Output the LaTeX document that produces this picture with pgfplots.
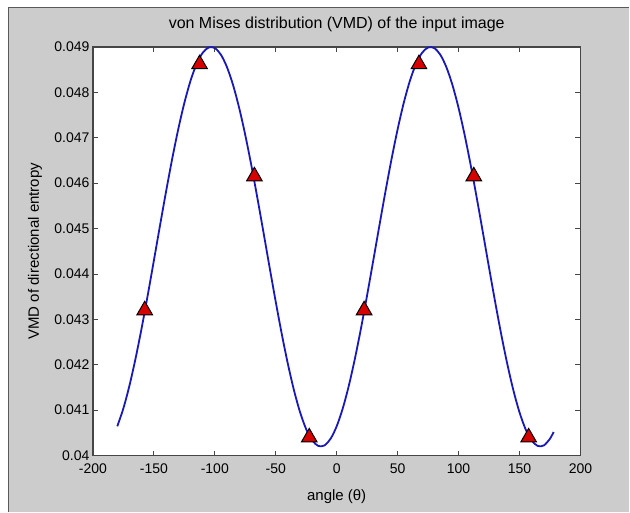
\documentclass[border=0pt]{standalone}
\usepackage{fontspec}
\setmainfont{Liberation Sans}
\usepackage{pgfplots}
\pgfplotsset{compat=1.18}
\definecolor{figgray}{RGB}{204,204,204}
\definecolor{vmdblue}{RGB}{25,25,185}
\definecolor{mkred}{RGB}{215,0,0}
\definecolor{boxgray}{RGB}{70,70,70}

\begin{document}
\begin{tikzpicture}
\fill[white] (0pt,0pt) rectangle (630pt,512pt);
\fill[figgray] (8pt,0pt) rectangle (630pt,505pt);
\draw[gray!70!black, line width=1.2pt] (8.6pt,0pt) -- (8.6pt,504.4pt) -- (630pt,504.4pt);
\begin{axis}[
    at={(93pt,56pt)}, anchor=south west,
    scale only axis, width=488pt, height=409pt,
    xmin=-200, xmax=200, ymin=0.04, ymax=0.049,
    scaled x ticks=false, scaled y ticks=false,
    font=\fontsize{14}{16}\selectfont,
    axis background/.style={fill=white},
    axis line style={boxgray, line width=1.2pt},
    tick align=inside, major tick length=5pt,
    tick style={boxgray, line width=0.8pt},
    xtick={-200,-150,-100,-50,0,50,100,150,200},
    xticklabels={-200,-150,-100,-50,0,50,100,150,200},
    ytick={0.04,0.041,0.042,0.043,0.044,0.045,0.046,0.047,0.048,0.049},
    yticklabels={0.04,0.041,0.042,0.043,0.044,0.045,0.046,0.047,0.048,0.049},
    xticklabel style={yshift=-5pt},
    title={von Mises distribution (VMD) of the input image},
    title style={at={(axis description cs:0.5,1.0416)}, anchor=center, yshift=0pt,
        font=\fontsize{16}{18}\selectfont},
    xlabel={angle (θ)},
    xlabel style={at={(axis description cs:0.5,-0.1002)}, anchor=center,
        font=\fontsize{15}{17}\selectfont},
    ylabel={VMD of directional entropy},
    ylabel style={at={(axis description cs:-0.1189,0.5)}, anchor=center,
        font=\fontsize{15}{17}\selectfont},
]
% VMD curve
\addplot[vmdblue, line width=1.8pt, smooth] coordinates {
(-180,0.040645)(-175,0.041040)(-170,0.041543)(-165,0.042140)(-160,0.042810)
(-155,0.043536)(-150,0.044293)(-145,0.045060)(-140,0.045813)(-135,0.046529)
(-130,0.047186)(-125,0.047765)(-120,0.048248)(-115,0.048620)(-110,0.048869)
(-105,0.048989)(-100,0.048976)(-95,0.048830)(-90,0.048555)(-85,0.048160)
(-80,0.047657)(-75,0.047060)(-70,0.046390)(-65,0.045665)(-60,0.044907)
(-55,0.044140)(-50,0.043387)(-45,0.042671)(-40,0.042014)(-35,0.041435)
(-30,0.040952)(-25,0.040580)(-20,0.040331)(-15,0.040211)(-10,0.040224)
(-5,0.040371)(0,0.040645)(5,0.041040)(10,0.041543)(15,0.042140)
(20,0.042810)(25,0.043536)(30,0.044293)(35,0.045060)(40,0.045813)
(45,0.046529)(50,0.047186)(55,0.047765)(60,0.048248)(65,0.048620)
(70,0.048869)(75,0.048989)(80,0.048976)(85,0.048830)(90,0.048555)
(95,0.048160)(100,0.047657)(105,0.047060)(110,0.046390)(115,0.045665)
(120,0.044907)(125,0.044140)(130,0.043387)(135,0.042671)(140,0.042014)
(145,0.041435)(150,0.040952)(155,0.040580)(160,0.040331)(165,0.040211)
(170,0.040224)(175,0.040371)(178,0.040520)
};
% sampled directions
\addplot[only marks, mark=triangle*, mark size=9pt,
    mark options={fill=mkred, draw=black, line width=1pt}] coordinates {
(-157.5,0.04320)(-112.5,0.04862)(-67.5,0.04615)(-22.5,0.04040)
(22.5,0.04320)(67.5,0.04862)(112.5,0.04615)(157.5,0.04040)
};
\end{axis}
\end{tikzpicture}
\end{document}
